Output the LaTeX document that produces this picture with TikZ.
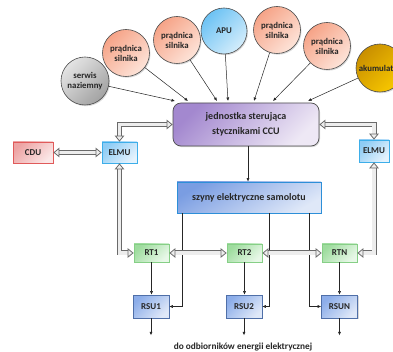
\documentclass[tikz,border=0pt]{standalone}
\usepackage{fontspec}
\setmainfont{Carlito}
\usetikzlibrary{arrows.meta,shadows,calc}
\definecolor{pradA}{HTML}{F6A387}
\definecolor{pradB}{HTML}{FDE4D9}
\definecolor{grayA}{HTML}{E4E4E4}
\definecolor{grayB}{HTML}{A2A2A2}
\definecolor{apuA}{HTML}{6CC2F4}
\definecolor{apuB}{HTML}{D4EDFB}
\definecolor{akuA}{HTML}{C98F00}
\definecolor{akuB}{HTML}{F8C800}
\definecolor{ccuA}{HTML}{A388CF}
\definecolor{ccuB}{HTML}{EEE8F5}
\definecolor{busA}{HTML}{7A9DE2}
\definecolor{busB}{HTML}{DFE8F8}
\definecolor{busD}{HTML}{2D8FD8}
\definecolor{elmA}{HTML}{8ECCF5}
\definecolor{elmB}{HTML}{E5F3FD}
\definecolor{elmD}{HTML}{3DAEE9}
\definecolor{cduA}{HTML}{EDA3A3}
\definecolor{cduB}{HTML}{FBE7E7}
\definecolor{cduD}{HTML}{E05A5A}
\definecolor{rtA}{HTML}{9EDC9E}
\definecolor{rtB}{HTML}{E8F8E8}
\definecolor{rtD}{HTML}{86CF86}
\definecolor{rsuA}{HTML}{8CADE9}
\definecolor{rsuB}{HTML}{DFE8F8}
\definecolor{rsuD}{HTML}{4F6FA8}
\definecolor{hol}{HTML}{6A6A6A}
\definecolor{holin}{HTML}{EDEDED}
\tikzset{
  htip/.tip={Triangle[open,color=hol,fill=holin,length=6pt,width=9.5pt,line width=0.8pt]},
  shd/.style={drop shadow={opacity=0.3,shadow xshift=1pt,shadow yshift=-1.2pt}},
  circ/.style={circle, draw=black!70, line width=0.6pt, inner sep=0pt, align=center,
    font=\bfseries\fontsize{8.8}{10}\selectfont, text=black!85, shd},
  prad/.style={circ, top color=pradA, bottom color=pradB, shading angle=45},
  boxlbl/.style={rectangle, inner sep=0pt, align=center,
    font=\bfseries\fontsize{9}{10}\selectfont, text=black!85, line width=0.7pt},
  elmu/.style={boxlbl, draw=elmD, top color=elmA, bottom color=elmB, shading angle=45},
  rt/.style={boxlbl, draw=rtD, top color=rtA, bottom color=rtB, shading angle=45,
    minimum width=35pt, minimum height=18pt},
  rsu/.style={boxlbl, draw=rsuD, top color=rsuA, bottom color=rsuB, shading angle=45,
    minimum width=36pt, minimum height=23pt, shd},
  conn/.style={draw=black!85, line width=0.5pt, -{Latex[length=3.5pt,width=3pt]}},
  hollowout/.style={draw=hol, line width=5pt, shorten <=5.5pt, shorten >=5.5pt},
  hollowin/.style={draw=holin, line width=3.2pt, htip-htip}
}
\newcommand\hollowarrow[1]{\draw[hollowout] #1; \draw[hollowin] #1;}
\begin{document}
\begin{tikzpicture}[x=1pt,y=-1pt]
\clip (0,0) rectangle (393,352);
\fill[white] (0,0) rectangle (393,352);

% sources
\node[circ, minimum size=48pt, top color=grayA, bottom color=grayB, shading angle=45] (srv) at (85,81) {serwis\\naziemny};
\node[prad, minimum size=47pt] (p1) at (126,53) {prądnica\\silnika};
\node[prad, minimum size=47pt] (p2) at (177,40) {prądnica\\silnika};
\node[circ, minimum size=46pt, top color=apuA, bottom color=apuB, shading angle=45] (apu) at (224,31) {APU};
\node[prad, minimum size=47pt] (p3) at (277,30) {prądnica\\silnika};
\node[prad, minimum size=47pt] (p4) at (327,46) {prądnica\\silnika};
\node[circ, minimum size=48pt, top color=akuA, bottom color=akuB, shading angle=45] (aku) at (380,68) {akumulator};

% CCU
\node[rectangle, rounded corners=8pt, draw=black!70, line width=0.7pt,
  top color=ccuA, bottom color=ccuB, shading angle=45, shd,
  minimum width=146pt, minimum height=43pt, inner sep=0pt, align=center,
  font=\bfseries\fontsize{10}{15}\selectfont, text=black!85] (ccu) at (246,124.5)
  {jednostka sterująca\\stycznikami CCU};

% CDU, ELMU
\node[boxlbl, draw=cduD, top color=cduA, bottom color=cduB, shading angle=45,
  minimum width=40pt, minimum height=21pt] (cdu) at (33,152.5) {CDU};
\node[elmu, minimum width=35pt, minimum height=21pt] (elm1) at (119.5,152.5) {ELMU};
\node[elmu, minimum width=30pt, minimum height=22pt] (elm2) at (374,151) {ELMU};

% bus
\node[rectangle, draw=busD, line width=0.8pt, top color=busA, bottom color=busB,
  shading angle=30, shd, minimum width=144pt, minimum height=31pt, inner sep=0pt,
  font=\bfseries\fontsize{10}{12}\selectfont, text=black!85] (bus) at (249,197.5)
  {szyny elektryczne samolotu};

% RT
\node[rt] (rt1) at (151.5,253) {RT1};
\node[rt] (rt2) at (244.5,253) {RT2};
\node[rt] (rtn) at (339.5,253) {RTN};

% RSU
\node[rsu] (rsu1) at (151,306.5) {RSU1};
\node[rsu] (rsu2) at (244,306.5) {RSU2};
\node[rsu] (rsun) at (339.5,306.5) {RSUN};

\node[font=\bfseries\fontsize{9.3}{11}\selectfont, text=black!85] (out) at (243,347.5) {do odbiorników energii elektrycznej};

% arrows from sources to CCU
\coordinate (t0) at (175,101);
\coordinate (t1) at (188,101);
\coordinate (t2) at (217,101);
\coordinate (t3) at (228,101);
\coordinate (t4) at (254,101);
\coordinate (t5) at (273,101);
\coordinate (t6) at (308,101);
\draw[conn] (srv) -- (t0);
\draw[conn] (p1) -- (t1);
\draw[conn] (p2) -- (t2);
\draw[conn] (apu) -- (t3);
\draw[conn] (p3) -- (t4);
\draw[conn] (p4) -- (t5);
\draw[conn] (aku) -- (t6);

% CCU to bus
\draw[conn] (ccu.south -| 248,0) -- (bus.north -| 248,0);

% bus to RSU
\draw[conn] ([xshift=-67pt]bus.south) |- (rsu1.east);
\draw[conn] ([xshift=20pt]bus.south) |- (rsu2.east);
\draw[conn] ([xshift=60pt]bus.south) |- (rsun.west);

% RT to RSU
\draw[conn] (rt1.south) -- (rt1.south |- rsu1.north);
\draw[conn] (rt2.south) -- (rt2.south |- rsu2.north);
\draw[conn] (rtn.south) -- (rtn.south |- rsun.north);

% RSU outputs
\coordinate (o1) at ($(rsu1.south)+(0,17)$);
\coordinate (o2) at ($(rsu2.south)+(0,17)$);
\coordinate (o3) at ($(rsun.south)+(0,17)$);
\draw[conn] (rsu1.south) -- (o1);
\draw[conn] (rsu2.south) -- (o2);
\draw[conn] (rsun.south) -- (o3);

% hollow double arrows
\hollowarrow{(cdu.east) -- (elm1.west)}
\hollowarrow{(elm1.north) |- (ccu.west)}
\hollowarrow{(ccu.east) -| (elm2.north)}
\hollowarrow{(elm1.south) |- (rt1.west)}
\hollowarrow{(elm2.south) |- (rtn.east)}
\hollowarrow{(rt1.east) -- (rt2.west)}
\hollowarrow{(rt2.east) -- (rtn.west)}
\end{tikzpicture}
\end{document}
